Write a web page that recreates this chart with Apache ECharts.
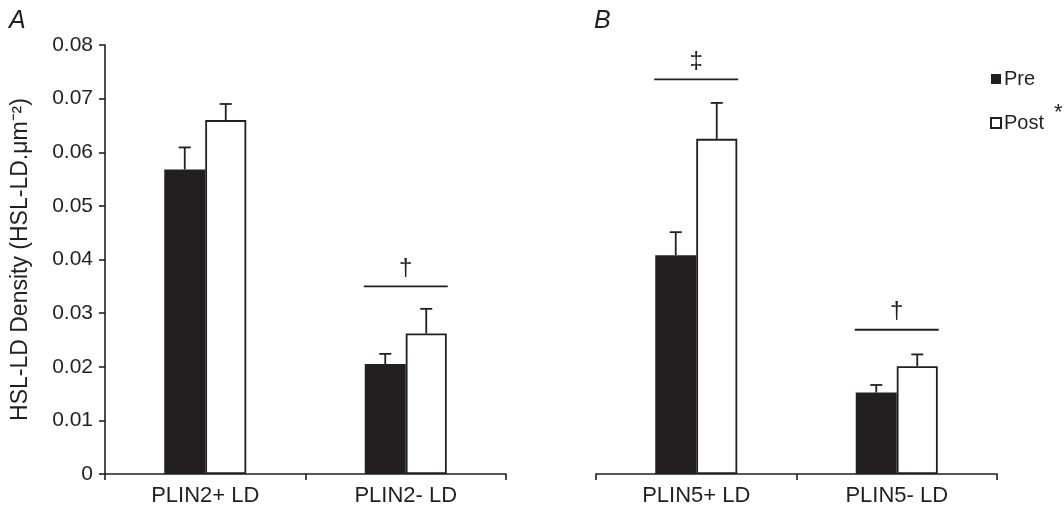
<!DOCTYPE html>
<html>
<head>
<meta charset="utf-8">
<script src="https://cdn.jsdelivr.net/npm/echarts@6/dist/echarts.min.js"></script>
<style>html,body{margin:0;padding:0;background:#fff;}#c{width:1064px;height:512px;}</style>
</head>
<body>
<div id="c"></div>
<script>
// ---- data ----
const catsA = ['PLIN2+ LD', 'PLIN2- LD'];
const catsB = ['PLIN5+ LD', 'PLIN5- LD'];
const preA = [0.0568, 0.0205];
const postA = [0.0660, 0.0262];
const preErrA = [0.0041, 0.0019];
const postErrA = [0.0030, 0.0046];
const preB = [0.0408, 0.0152];
const postB = [0.0625, 0.0201];
const preErrB = [0.0043, 0.0014];
const postErrB = [0.0067, 0.0022];
const sigA = [null, 0.0350];
const sigSymA = ['', '\u2020'];
const sigB = [0.0736, 0.0269];
const sigSymB = ['\u2021', '\u2020'];
const yTicks = [0, 0.01, 0.02, 0.03, 0.04, 0.05, 0.06, 0.07, 0.08];

// ---- style ----
const INK = '#231f20';
const FONT = 'Liberation Sans, Arial, Helvetica, sans-serif';
const BAR_W = 41;

function errSeries(vals, errs, xi, side) {
  return {
    type: 'custom', xAxisIndex: xi, yAxisIndex: xi, z: 5, silent: true,
    data: vals.map((v, i) => [i, v, errs[i]]),
    renderItem: function (params, api) {
      const c = api.coord([api.value(0), api.value(1)]);
      const t = api.coord([api.value(0), api.value(1) + api.value(2)]);
      const x = c[0] + side * BAR_W / 2;
      return {
        type: 'group', children: [
          { type: 'line', shape: { x1: x, y1: c[1], x2: x, y2: t[1] }, style: { stroke: INK, lineWidth: 1.8 } },
          { type: 'line', shape: { x1: x - 6, y1: t[1], x2: x + 6, y2: t[1] }, style: { stroke: INK, lineWidth: 1.8 } }
        ]
      };
    }
  };
}
function sigSeries(vals, syms, xi) {
  return {
    type: 'custom', xAxisIndex: xi, yAxisIndex: xi, z: 5, silent: true,
    data: vals.map((v, i) => [i, v == null ? NaN : v]),
    renderItem: function (params, api) {
      const v = api.value(1);
      if (isNaN(v)) return null;
      const c = api.coord([api.value(0), v]);
      return {
        type: 'group', children: [
          { type: 'line', shape: { x1: c[0] - 42, y1: c[1], x2: c[0] + 42, y2: c[1] }, style: { stroke: INK, lineWidth: 1.8 } },
          { type: 'text', x: c[0], y: c[1] - 6, style: { text: syms[params.dataIndex], fill: INK, font: '24px ' + FONT, align: 'center', verticalAlign: 'bottom' } }
        ]
      };
    }
  };
}

const xAxisCommon = {
  type: 'category', boundaryGap: true,
  axisLine: { show: true, lineStyle: { color: INK, width: 1.6 } },
  axisTick: { show: true, length: 6, alignWithLabel: false, lineStyle: { color: INK, width: 1.6 } },
  axisLabel: { color: INK, fontSize: 22, fontFamily: FONT, margin: 11 }
};
const yAxisCommon = {
  type: 'value', min: 0, max: 0.08, interval: 0.01,
  splitLine: { show: false }
};

const chart = echarts.init(document.getElementById('c'), null, { renderer: 'canvas' });
chart.setOption({
  animation: false,
  backgroundColor: '#fff',
  textStyle: { fontFamily: FONT, color: INK },
  grid: [
    { left: 105, top: 45, width: 401, height: 429 },
    { left: 596, top: 45, width: 401, height: 429 }
  ],
  xAxis: [
    Object.assign({ gridIndex: 0, data: catsA }, xAxisCommon),
    Object.assign({ gridIndex: 1, data: catsB }, xAxisCommon)
  ],
  yAxis: [
    Object.assign({
      gridIndex: 0,
      name: 'HSL-LD Density (HSL-LD.\u03bcm\u207b\u00b2)',
      nameLocation: 'middle', nameGap: 73, nameRotate: 90,
      nameTextStyle: { color: INK, fontSize: 23, fontFamily: FONT },
      axisLine: { show: true, lineStyle: { color: INK, width: 1.6 } },
      axisTick: { show: true, length: 6, lineStyle: { color: INK, width: 1.6 } },
      axisLabel: { color: INK, fontSize: 21, fontFamily: FONT, margin: 12,
        formatter: function (v) { const i = yTicks.findIndex(t => Math.abs(t - v) < 1e-9); return i < 0 ? '' : (i === 0 ? '0' : yTicks[i].toFixed(2)); } }
    }, yAxisCommon),
    Object.assign({ gridIndex: 1, axisLine: { show: false }, axisTick: { show: false }, axisLabel: { show: false } }, yAxisCommon)
  ],
  legend: {
    orient: 'vertical', left: 985, top: 64, itemGap: 24, itemWidth: 10, itemHeight: 10,
    icon: 'rect', selectedMode: false,
    textStyle: { color: INK, fontSize: 20, fontFamily: FONT, padding: [0, 0, 0, -2] },
    data: ['Pre', 'Post']
  },
  graphic: [
    { type: 'text', left: 9, top: 9, style: { text: 'A', font: 'italic 25px ' + FONT, fill: INK } },
    { type: 'text', left: 594, top: 9, style: { text: 'B', font: 'italic 25px ' + FONT, fill: INK } },
    { type: 'text', left: 1054, top: 102, style: { text: '*', font: '22px ' + FONT, fill: INK } }
  ],
  series: [
    { name: 'Pre', type: 'bar', xAxisIndex: 0, yAxisIndex: 0, data: preA, barWidth: BAR_W, barGap: '0%', itemStyle: { color: INK } },
    { name: 'Post', type: 'bar', xAxisIndex: 0, yAxisIndex: 0, data: postA, barWidth: BAR_W, barGap: '0%', itemStyle: { color: '#fff', borderColor: INK, borderWidth: 1.8 } },
    { name: 'Pre', type: 'bar', xAxisIndex: 1, yAxisIndex: 1, data: preB, barWidth: BAR_W, barGap: '0%', itemStyle: { color: INK } },
    { name: 'Post', type: 'bar', xAxisIndex: 1, yAxisIndex: 1, data: postB, barWidth: BAR_W, barGap: '0%', itemStyle: { color: '#fff', borderColor: INK, borderWidth: 1.8 } },
    errSeries(preA, preErrA, 0, -1),
    errSeries(postA, postErrA, 0, 1),
    errSeries(preB, preErrB, 1, -1),
    errSeries(postB, postErrB, 1, 1),
    sigSeries(sigA, sigSymA, 0),
    sigSeries(sigB, sigSymB, 1)
  ]
});
</script>
</body>
</html>
